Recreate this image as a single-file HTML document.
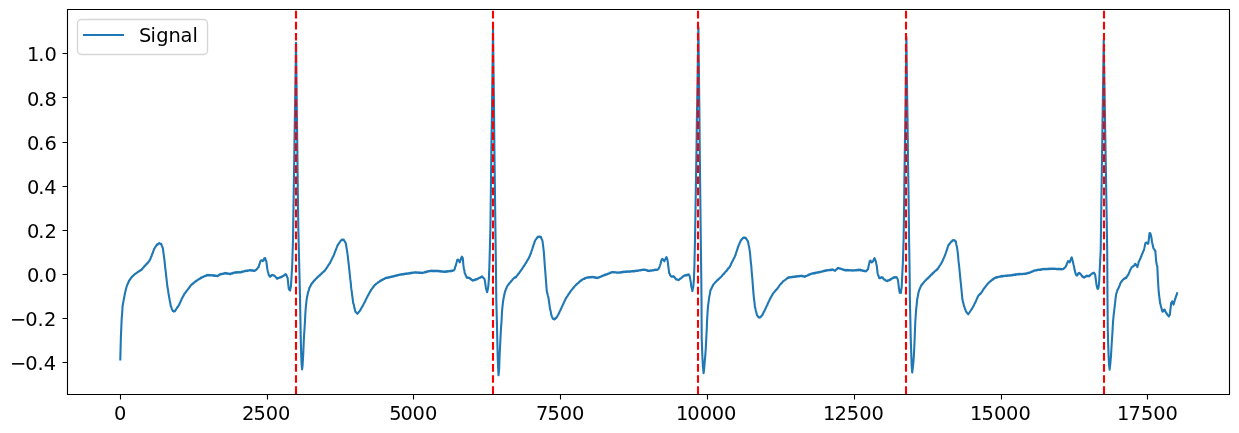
<!DOCTYPE html>
<html><head><meta charset="utf-8"><title>Signal</title>
<style>html,body{margin:0;padding:0;background:#fff;}body{width:1239px;height:433px;overflow:hidden;}svg{display:block;}</style>
</head><body>
<svg width="1239" height="433" viewBox="0 0 1239 433">
<rect width="1239" height="433" fill="#fff"/>
<defs><clipPath id="ax"><rect x="67.5" y="9.5" width="1162" height="385"/></clipPath></defs>
<polyline clip-path="url(#ax)" fill="none" stroke="#1f77b4" stroke-width="2.083" stroke-linejoin="round" stroke-linecap="square" points="120.3,359.5 120.9,336.2 121.3,327.7 121.7,318.4 122.2,312.5 122.6,305.8 123.3,302.2 123.9,298.8 124.4,296.3 125,293 125.5,291.1 126.1,288.6 126.6,286.7 127.1,285.1 127.6,284.3 128.1,282.8 128.6,282.1 129.1,280.4 129.6,280.2 130.1,279.1 130.6,278.8 131.1,277.7 131.6,277.4 132.1,276.5 132.5,276.4 133,275.6 133.5,275.6 134,274.7 134.4,274.7 134.9,273.9 135.4,274 135.9,273.2 136.5,273.2 137,272.5 137.5,272.4 138.1,271.7 138.6,271.8 139.1,271 139.6,271.1 140.1,270.3 140.6,270.5 141.1,269.7 141.6,269.9 142.1,268.8 142.5,268.7 143,267.7 143.5,267.6 144,266.5 144.4,266.5 144.9,265.5 145.4,265.5 145.8,264.6 146.3,264.5 146.8,263.6 147.3,263.5 147.7,262.6 148.2,262.6 148.8,261.3 149.3,261 149.9,259.7 150.5,258.8 151,257 151.6,256.1 152.1,254.2 152.6,253.4 153.1,251.6 153.6,250.7 154.1,248.8 154.6,248.5 155.1,247.2 155.6,246.8 156.1,245.6 156.6,245.2 157.1,244.4 157.6,244.6 158.1,243.8 158.6,243.8 159.1,243 159.6,243.7 160.1,243.5 160.7,244.1 161.2,243.9 161.8,245.7 162.3,246.6 162.9,248.5 163.4,252.3 164,256.8 164.6,261.3 165.1,266.8 165.7,271.4 166.3,276.8 166.8,281.3 167.4,286.8 168,289.7 168.5,293.7 169.1,296.8 169.7,300.2 170.2,302.7 170.8,306.2 171.4,307.3 171.9,309.1 172.5,310.3 172.9,311 173.4,310.9 173.8,311.6 174.4,311 174.9,311.2 175.4,310.1 175.9,309.8 176.4,308.6 176.9,308.4 177.4,307 178,306.7 178.6,305.4 179.1,305.1 179.6,303.4 180.2,302.6 180.7,300.9 181.3,300.2 181.8,298.4 182.3,298.1 182.7,296.8 183.2,296.4 183.7,295.1 184.1,294.7 184.6,293.5 185.1,293.3 185.5,292.3 186,292 186.5,291 187,290.7 187.4,289.8 187.9,289.5 188.4,288.5 188.9,288.2 189.4,287.1 189.8,287 190.3,285.9 190.8,285.6 191.3,284.6 191.8,284.6 192.2,283.9 192.7,283.9 193.2,283 193.7,283.1 194.1,282.3 194.6,282.3 195.1,281.6 195.5,281.6 196,280.9 196.5,281.1 197,280.3 197.4,280.3 197.9,279.5 198.4,279.7 198.9,279 199.5,279.1 200,278.4 200.5,278.5 200.9,277.7 201.4,278 201.8,277.2 202.3,277.4 202.8,276.8 203.3,276.9 203.9,276.3 204.4,276.5 204.9,275.8 205.4,276.1 206,275.5 206.5,275.7 207,274.9 207.5,275.5 208,274.9 208.5,275.5 209,274.9 209.6,275.4 210.1,275 210.6,275.4 211.1,275 211.6,275.4 212.1,275.1 212.6,275.5 213.1,275.1 213.5,275.8 214,275.3 214.5,275.9 215,275.4 215.5,276 215.9,275.6 216.4,276 216.9,275.7 217.4,276.2 217.9,275.5 218.4,275.7 218.9,274.9 219.3,275.1 219.8,274.4 220.3,274.5 220.8,273.9 221.3,274.3 221.7,273.8 222.2,274.2 222.7,273.5 223.2,274 223.7,273.4 224.2,273.7 224.6,273.1 225.1,273.5 225.6,272.9 226.1,273.6 226.6,273.2 227.1,273.7 227.6,273.3 228.2,273.9 228.7,273.6 229.2,274 229.7,273.7 230.2,274.3 230.7,273.6 231.2,273.8 231.8,273.2 232.3,273.6 232.8,272.9 233.3,273.2 233.9,272.6 234.4,272.8 234.9,272.3 235.4,272.8 235.9,272.2 236.3,272.7 236.8,272.1 237.3,272.6 237.8,272.1 238.3,272.6 238.8,272.1 239.2,272.5 239.7,272.1 240.2,272.4 240.7,272 241.2,272.3 241.7,271.7 242.2,272 242.8,271.4 243.3,271.7 243.8,271.2 244.3,271.5 244.8,270.8 245.3,271.2 245.8,270.6 246.4,271.1 246.9,270.5 247.4,270.9 247.9,270.4 248.4,270.7 249,270.2 249.5,270.4 250,269.9 250.5,270.4 251,270.1 251.6,270.7 252.1,270.2 252.6,270.7 253.1,270.4 253.7,270.9 254.2,270.5 254.7,271 255.2,270.2 255.6,270.3 256.1,269.5 256.5,269.6 257,268.8 257.6,268.5 258.1,267.2 258.7,267 259.1,265 259.6,264 260.1,262.1 260.5,261.1 261.1,260.3 261.6,260.5 262.1,260.4 262.6,261.1 263.1,260.9 263.6,260.4 264,258.8 264.5,258.3 265.2,258.1 265.8,260.1 266.3,261.2 266.9,265.8 267.4,269.4 267.9,271.7 268.4,273.3 268.9,275.6 269.5,275.8 270.1,276.8 270.6,275.9 271.1,276 271.6,275 272.1,275.1 272.6,274.8 273.1,275.5 273.6,275.3 274.1,276 274.6,275.6 275.1,276.6 275.6,276.7 276.1,277.7 276.6,277.8 277.1,278.9 277.6,278.1 278.1,278.4 278.6,277.8 279.1,278 279.6,277.4 280.1,277.6 280.6,277 281.1,277.3 281.6,276.6 282.1,276.8 282.6,276.1 283.1,276.1 283.5,275.5 284,275.6 284.5,274.8 284.9,274.9 285.4,274.1 285.9,274.4 286.5,275.1 287,276.8 287.6,277.7 288.2,283.7 288.8,288.8 289.2,289.7 289.7,289.8 290.1,290.6 290.5,288.2 290.9,286.8 291.6,275.8 292.2,265.7 292.6,252.5 293,240.2 293.5,206.8 294,174.3 294.5,141.1 295,108.6 295.5,75.2 296,42.7 296.5,79.3 296.9,116.9 297.4,153.5 297.8,191.1 298.3,227.7 298.9,252.2 299.5,275.7 300,298.2 300.5,323.8 300.8,340.2 301.2,354.7 301.6,364.2 302.1,369.4 302.6,365.2 303.2,354.8 303.8,340.2 304.3,331.8 304.8,324.2 305.2,316.5 305.6,309.5 306.1,304.7 306.5,300.7 307.1,296.9 307.7,294 308.2,291.8 308.8,290.3 309.3,288 309.8,287.5 310.2,286.3 310.7,285.8 311.1,284.4 311.6,284 312.1,282.9 312.7,282.7 313.2,281.6 313.8,281.4 314.3,280.2 314.8,280.2 315.3,279.2 315.8,279.2 316.2,278.3 316.7,278.3 317.2,277.3 317.7,277.3 318.2,276.4 318.8,276.4 319.3,275.4 319.8,275.4 320.3,274.5 320.9,274.4 321.4,273.6 321.9,273.5 322.4,272.6 322.9,272.5 323.5,271.7 324,271.5 324.5,270.6 325,270.7 325.5,269.4 326,269.1 326.5,268 327,267.6 327.5,266.4 328,266.1 328.5,264.9 329,264.6 329.5,263.4 330,263.2 330.5,261.6 331.1,260.9 331.6,259.4 332.1,258.8 332.6,257.3 333.2,256.6 333.7,255.2 334.2,254.4 334.6,252.7 335.1,251.9 335.6,250.2 336.1,249.4 336.6,247.8 337,246.9 337.5,245.3 338,244.9 338.6,243.8 339.1,243.3 339.6,242.2 340.1,241.8 340.7,240.6 341.2,240.3 341.7,239.7 342.2,240.1 342.7,239.5 343.2,240 343.7,239.5 344.2,240.8 344.7,241.2 345.2,242.4 345.7,242.8 346.3,246.5 346.8,249.4 347.4,253.3 347.9,257.1 348.4,262 348.9,265.8 349.4,270.6 349.8,274.5 350.3,279.4 350.8,283.2 351.2,288.2 351.7,291.4 352.2,295.6 352.7,298.8 353.2,303.1 353.8,304.7 354.3,307.4 354.8,309.2 355.4,311.8 355.9,311.9 356.4,312.8 356.9,312.8 357.4,313.8 357.9,312.8 358.4,312.7 358.9,311.7 359.4,311.6 359.9,310.6 360.4,310.2 360.8,308.9 361.3,308.5 361.8,307.2 362.3,306.9 362.8,305.6 363.2,305.2 363.7,303.9 364.2,303.2 364.8,301.8 365.3,301.1 365.8,299.6 366.3,299 366.9,297.4 367.4,296.8 367.9,295.4 368.5,294.9 369,293.5 369.5,293 370,291.6 370.6,291.1 371.1,289.7 371.6,289.4 372.1,288.5 372.5,288.3 373,287.2 373.5,287 373.9,286 374.4,285.7 374.9,284.7 375.4,284.8 375.9,283.9 376.4,284 376.9,283.2 377.4,283.2 377.9,282.4 378.4,282.5 378.9,281.7 379.4,281.8 379.9,280.9 380.4,281.1 380.9,280.3 381.4,280.5 382,279.8 382.5,280 383,279.2 383.5,279.5 384,278.8 384.6,278.9 385.1,278.1 385.6,278.3 386.1,277.7 386.6,278 387.1,277.5 387.7,277.9 388.2,277.3 388.7,277.6 389.2,277 389.7,277.4 390.2,276.8 390.8,277.1 391.3,276.5 391.8,276.9 392.3,276.4 392.8,276.6 393.3,276.1 393.8,276.4 394.3,275.9 394.8,276.1 395.3,275.6 395.8,275.9 396.3,275.3 396.8,275.6 397.3,275 397.8,275.4 398.3,274.8 398.8,275.2 399.3,274.5 399.8,274.9 400.3,274.3 400.8,274.7 401.3,274.2 401.8,274.6 402.3,274 402.8,274.4 403.3,273.9 403.8,274.3 404.3,273.8 404.8,274.1 405.3,273.6 405.8,274 406.3,273.4 406.8,273.9 407.3,273.4 407.8,273.7 408.3,273.3 408.8,273.6 409.3,273 409.8,273.5 410.3,272.8 410.8,273.3 411.3,272.7 411.8,273.2 412.3,272.6 412.8,273 413.3,272.5 413.8,272.8 414.3,272.3 414.8,272.7 415.3,272.2 415.8,272.7 416.3,272.3 416.8,272.8 417.3,272.4 417.8,272.8 418.3,272.4 418.8,272.9 419.3,272.4 419.8,273 420.3,272.6 420.8,273 421.3,272.6 421.8,273.1 422.3,272.7 422.8,272.9 423.3,272.5 423.8,272.7 424.3,272.1 424.8,272.5 425.3,271.9 425.8,272.3 426.3,271.5 426.8,271.9 427.3,271.4 427.8,271.6 428.3,271.1 428.8,271.4 429.3,270.9 429.8,271.1 430.3,270.7 430.8,271.1 431.3,270.6 431.8,271.2 432.3,270.7 432.8,271.1 433.3,270.7 433.7,271.1 434.2,270.7 434.7,271.1 435.2,270.7 435.7,271.2 436.2,270.7 436.7,271.1 437.2,270.7 437.7,271.2 438.2,270.8 438.7,271.3 439.2,270.9 439.7,271.4 440.2,271 440.7,271.6 441.2,271 441.7,271.7 442.2,271.3 442.7,271.6 443.2,271.3 443.7,271.9 444.2,271.4 444.7,271.9 445.2,271.5 445.7,271.8 446.2,271.2 446.7,271.7 447.2,271.1 447.7,271.6 448.2,271.1 448.7,271.4 449.2,271 449.7,271.3 450.2,270.8 450.7,271.3 451.2,270.7 451.7,271.1 452.2,270.5 452.7,270.9 453.2,270.3 453.7,270.5 454.2,269.9 454.7,269 455.1,267.1 455.6,266.2 456.2,263.8 456.7,262.2 457.3,259.8 457.8,260.2 458.3,259.7 458.8,260.9 459.3,261.3 459.8,262.4 460.3,260.5 460.8,259.6 461.3,257.7 461.8,256.7 462.3,257.1 462.8,258.2 463.4,265.2 463.8,268.2 464.3,270.2 464.7,273.2 465.2,273.8 465.7,275.3 466.2,276.1 466.7,277.7 467.2,277.2 467.7,277.8 468.2,277.5 468.7,278 469.2,277.6 469.7,278.5 470.2,278.4 470.7,279.2 471.2,279 471.7,279.9 472.2,279.9 472.7,280.6 473.2,280 473.7,280.4 474.2,279.8 474.7,280.1 475.1,279.4 475.6,279.8 476.1,279.2 476.6,279.5 477.1,278.9 477.6,279.1 478.1,278.4 478.6,278.5 479.1,277.8 479.6,278 480.1,277.3 480.6,277.6 481.1,276.9 481.6,277 482.1,276.4 482.6,277.3 483.1,277.3 483.6,278.3 484.1,278.4 484.6,279.3 485,281.7 485.5,285.1 485.9,287.7 486.5,290.3 487.1,292.2 487.7,289.9 488.3,286.5 488.9,278.8 489.4,265.7 489.9,247.3 490.4,227.8 490.9,188.4 491.4,148.1 492,108.9 492.5,68.6 493,29.2 493.5,68.6 494,108.8 494.4,148.2 494.9,188.4 495.4,227.8 496,272.2 496.3,299.8 496.9,322.3 497.3,339.8 497.8,360.3 498.5,375.3 499.2,368.2 499.6,355.2 500,348 500.4,339.8 501,327.9 501.5,321.8 502.1,310.3 502.7,304.6 503.3,299.9 503.9,296.8 504.4,294.6 505,291.4 505.5,290.7 505.9,289 506.4,288.4 506.8,286.9 507.3,286.1 507.8,285.2 508.3,285 508.8,284 509.2,283.8 509.7,282.7 510.2,282.6 510.7,281.6 511.2,281.5 511.7,280.4 512.2,280.3 512.7,279.3 513.2,279.1 513.7,278.2 514.2,278 514.7,277.3 515.1,277.7 515.5,277 516,277.3 516.5,276.2 517,275.9 517.5,274.9 518,274.7 518.5,273.5 519,273.4 519.5,272.3 520,271.9 520.6,270.7 521.1,270.5 521.6,269.3 522.2,268.9 522.7,267.6 523.2,267.4 523.6,266.2 524.1,266 524.6,264.8 525.1,264.5 525.5,263.3 526,263.1 526.5,261.8 526.9,261.4 527.4,260.1 527.9,259.7 528.4,258.6 528.8,258.1 529.3,256.9 529.9,255.9 530.4,254.1 531,253.3 531.5,251 532.1,249.9 532.6,247.8 533.1,246.7 533.6,244.8 534.1,243.8 534.6,241.8 535.1,240.7 535.6,239.6 536.1,239.4 536.6,238.2 537.1,238 537.6,236.8 538.2,237.2 538.7,236.6 539.3,236.9 539.8,236.6 540.4,237.2 540.9,236.9 541.5,238.8 542,239.7 542.6,241.5 543,245 543.5,249.2 543.9,252.6 544.5,261.5 545.1,269.4 545.7,277 546.2,283.7 546.8,291.4 547.3,293.1 547.9,295.7 548.4,297.3 549,301.7 549.5,305.1 550.1,309.3 550.7,311.3 551.2,314.4 551.8,316.3 552.3,317.5 552.7,317.9 553.2,319 553.8,318.8 554.4,319.5 554.9,318.6 555.3,318.8 555.8,317.9 556.2,318 556.7,317.2 557.2,316.6 557.8,315.2 558.3,314.8 558.8,313.3 559.3,312.6 559.8,311.1 560.4,310.4 560.9,308.9 561.4,308.2 561.9,306.8 562.4,306 562.9,304.5 563.4,303.9 563.9,302.4 564.4,301.7 564.9,300.3 565.4,299.6 565.9,298.1 566.4,297.7 566.9,296.6 567.4,296.3 567.9,295.1 568.4,294.7 568.9,293.6 569.4,293.3 569.9,292.1 570.4,291.8 570.9,290.6 571.4,290.4 571.9,289.4 572.4,289.3 572.9,288.3 573.4,288.1 573.9,287 574.4,286.9 574.9,285.9 575.4,285.8 575.9,284.8 576.4,284.8 576.9,283.8 577.4,283.8 578,283 578.5,283 579,282.1 579.5,282 580,281.1 580.5,281.2 581,280.4 581.5,280.5 582,279.6 582.5,279.7 583,279.1 583.5,279.2 584,278.6 584.5,278.9 585,278.1 585.5,278.3 586,277.7 586.5,277.9 587,277.3 587.5,277.6 588,277.2 588.5,277.6 589,277 589.5,277.4 590,277 590.5,277.5 591,276.8 591.5,277.3 592,276.9 592.5,277.3 593,276.8 593.5,277.4 594,277.1 594.5,277.6 595,277.2 595.5,277.8 596,277.4 596.5,278 597,277.6 597.5,278.2 598,277.5 598.5,277.7 599,277 599.5,277.4 600,276.7 600.5,276.9 601,276.3 601.5,276.5 602,275.9 602.4,276.1 602.9,275.6 603.4,275.8 603.9,275.1 604.4,275.3 604.8,274.7 605.3,275.1 605.8,274.4 606.3,274.7 606.8,274 607.3,274.3 607.8,273.6 608.3,273.9 608.8,273.3 609.4,273.5 609.9,272.8 610.4,273.1 610.9,272.4 611.4,272.7 611.9,272.1 612.4,272.3 612.9,271.9 613.4,272.4 613.9,272 614.5,272.5 615,272 615.5,272.5 616,272.2 616.5,272.6 617,272.3 617.6,272.7 618.1,272.3 618.6,272.7 619.1,272.4 619.6,272.7 620.1,272.3 620.6,272.6 621.1,272.1 621.5,272.5 622,271.9 622.5,272.3 623,271.8 623.5,272.1 624,271.6 624.5,272.1 625,271.6 625.5,272 626,271.4 626.5,272 627.1,271.4 627.6,271.8 628.1,271.3 628.6,271.8 629.1,271.3 629.6,271.8 630.1,271.3 630.6,271.7 631.1,271.1 631.6,271.5 632.1,271.1 632.5,271.5 633,271 633.5,271.4 634,270.9 634.5,271.3 635,270.8 635.5,271.2 636,270.6 636.5,271 637,270.5 637.5,270.9 638,270.4 638.5,270.6 639,270.2 639.5,270.5 640,270 640.5,270.4 641,269.8 641.5,270.2 642,269.7 642.5,270 643,269.5 643.5,269.9 644,269.4 644.5,270 645,269.6 645.5,270.2 646,269.8 646.5,270.4 647,270.1 647.5,270.8 648,270.4 648.5,271 649,270.7 649.5,271.1 650,270.5 650.5,270.8 651,270.3 651.5,270.7 652,270.2 652.5,270.5 653,270 653.5,270.4 654,269.9 654.4,270.2 654.9,269.6 655.4,270.1 655.9,269.6 656.3,269.9 656.8,269.5 657.3,269.8 657.8,269.2 658.3,269.3 658.9,267.8 659.4,267.1 660,265.5 660.5,264 661,261.7 661.5,260.2 662,259.2 662.4,258.9 662.9,259.1 663.3,260.1 663.8,260.4 664.3,261.4 664.8,259.9 665.3,259.3 665.9,257.9 666.4,257.2 666.8,257.8 667.3,259.2 667.8,262.2 668.3,266.2 668.7,269.1 669.1,272.8 669.7,273.6 670.2,275.4 670.8,276.1 671.3,276.6 671.8,276.2 672.2,276.6 672.7,276.2 673.2,276.6 673.7,276.2 674.2,277.2 674.7,277.3 675.2,278.4 675.7,278.5 676.2,279.5 676.7,279.2 677.2,279.7 677.7,279.5 678.2,280.1 678.7,279.8 679.2,279.8 679.7,278.9 680.2,279 680.7,278.2 681.2,278.3 681.7,277.4 682.2,277.4 682.7,276.6 683.1,276.6 683.6,275.8 684.1,275.9 684.6,275.3 685.1,275.6 685.6,275.1 686.1,275.4 686.7,274.8 687.2,275.3 687.7,274.6 688.2,275 688.7,274.4 689.2,275.6 689.6,275.8 690.3,279.6 690.8,282.4 691.2,286.2 691.8,288.3 692.4,291.1 692.8,288.7 693.3,287 693.9,279.7 694.4,266.3 695,239.7 695.5,209.8 696,179 696.5,148.9 696.9,118.1 697.4,88.1 697.9,57.2 698.4,27.2 698.9,69.4 699.4,112.5 699.8,154.6 700.3,197.7 700.8,239.8 701.3,280.2 701.5,299.8 701.7,337.3 702.3,354.7 702.9,366.3 703.6,373.2 704,370 704.4,365.8 704.8,360.9 705.3,355.2 705.8,348 706.2,339.7 706.8,327.9 707,321.7 707.7,310.2 708.2,304.7 708.8,300.3 709.3,296.6 709.9,293.9 710.4,290.2 710.9,289.8 711.4,288.4 711.8,287.8 712.3,286.4 712.8,285.8 713.3,284.4 713.8,284.3 714.3,283.4 714.8,283.1 715.3,282.1 715.9,282 716.4,281.1 716.9,280.8 717.4,279.9 717.9,279.9 718.4,279 718.9,279.1 719.3,278.2 719.8,278.2 720.3,277.4 720.8,277.4 721.3,276.4 721.8,276.3 722.3,275.2 722.8,275.1 723.4,274 723.9,274 724.4,272.9 724.9,272.8 725.4,271.8 725.9,271.6 726.4,270.7 726.9,270.6 727.3,269.4 727.8,269.4 728.3,268.3 728.8,268.2 729.3,267.2 729.8,267 730.2,265.7 730.7,265.1 731.1,263.7 731.6,263.1 732.1,261.7 732.6,261.2 733.1,259.9 733.5,259.3 734,257.9 734.5,257.4 735,256.1 735.5,255.2 735.9,253.2 736.4,252.3 736.9,250.3 737.4,249.3 737.8,247.5 738.3,246.5 738.8,244.9 739.3,244.2 739.8,242.6 740.3,241.9 740.8,240.3 741.3,240.2 741.8,239.2 742.3,239 742.8,238 743.3,237.8 743.8,237.5 744.3,238 744.8,237.5 745.3,238.1 745.8,237.8 746.3,239 746.8,239.4 747.4,240.7 747.9,241.1 748.5,244.3 749,246.6 749.6,249.8 750.2,254.8 750.7,260.9 751.3,266 751.8,273.1 752.4,279.3 752.9,286.4 753.6,294.8 754,299 754.5,302.5 754.9,306.9 755.4,308.4 755.9,311 756.4,312.6 756.9,315.1 757.4,315.4 757.8,316.6 758.3,316.8 758.7,317.4 759.2,317.2 759.6,317.7 760.1,317 760.5,317.2 761,316.4 761.5,316.2 761.9,315.2 762.4,315.1 762.9,313.7 763.3,313.2 763.8,311.8 764.3,311.4 764.8,309.9 765.2,309.4 765.7,308.1 766.2,307.3 766.8,305.7 767.3,305.1 767.8,303.4 768.3,302.7 768.9,301.2 769.4,300.5 769.9,298.9 770.4,298.4 770.8,297.2 771.3,296.9 771.8,295.6 772.3,295.1 772.7,293.9 773.2,293.6 773.7,292.4 774.2,292.3 774.8,291.3 775.3,291.1 775.8,290.1 776.4,289.9 776.9,288.9 777.4,288.7 777.9,287.6 778.4,287.4 778.9,286.1 779.4,285.9 779.9,284.7 780.4,284.6 780.9,283.6 781.5,283.5 782,282.4 782.5,282.3 783,281.3 783.5,281.3 784,280.5 784.6,280.5 785.1,279.8 785.6,279.8 786.1,279 786.6,279 787.2,278.1 787.7,278.2 788.2,277.4 788.7,277.8 789.2,277.2 789.7,277.5 790.2,277.1 790.7,277.4 791.2,276.9 791.8,277.3 792.3,276.8 792.8,277.1 793.3,276.6 793.8,277 794.3,276.5 794.8,276.9 795.3,276.3 795.8,276.8 796.3,276.2 796.9,276.7 797.4,276.1 797.9,276.5 798.4,276 798.9,276.4 799.4,275.9 800,276.2 800.5,275.8 801,276.2 801.5,275.6 802,276.2 802.4,275.9 802.9,276.4 803.4,276.1 803.9,276.6 804.3,276.3 804.8,276.9 805.3,276.1 805.8,276.3 806.3,275.7 806.9,276 807.4,275.3 807.9,275.5 808.4,274.7 808.9,275 809.4,274.4 810,274.5 810.5,273.9 811,274.2 811.5,273.5 812,273.8 812.5,273.3 813,273.6 813.5,273.1 813.9,273.5 814.4,272.9 814.9,273.3 815.4,272.7 815.9,273.1 816.4,272.5 816.9,272.8 817.4,272.3 817.8,272.7 818.3,272.1 818.8,272.5 819.3,271.9 819.8,272.3 820.3,271.8 820.8,272 821.3,271.5 821.8,271.7 822.3,271.2 822.8,271.5 823.4,270.9 823.9,271.3 824.4,270.7 824.9,271 825.4,270.4 825.9,270.8 826.4,270.2 826.9,270.5 827.4,270 827.9,270.4 828.5,270 829,270.3 829.5,269.8 830,270.2 830.5,269.7 831,270.1 831.6,269.6 832.1,269.9 832.6,269.4 833.1,269.8 833.6,269.8 834.2,270.7 834.7,270.6 835.2,270.7 835.7,269.8 836.2,269.8 836.6,269 837.1,269 837.6,268.1 838.1,268.2 838.6,267.9 839.1,268.4 839.6,268.2 840.1,268.8 840.6,268.6 841.1,269.1 841.7,268.8 842.2,269.4 842.7,269.2 843.2,269.8 843.7,269.5 844.2,270.1 844.7,269.9 845.2,270.4 845.7,269.9 846.2,270.4 846.7,269.9 847.1,270.3 847.6,269.9 848.1,270.5 848.6,270 849.1,270.4 849.6,270 850.1,270.5 850.6,270.2 851,270.5 851.5,270.1 852,270.6 852.5,270.2 853,270.6 853.5,270.2 854,270.5 854.5,270 855.1,270.4 855.6,270 856.1,270.5 856.6,269.9 857.1,270.3 857.6,269.8 858.2,270.3 858.7,269.7 859.2,270.2 859.7,269.6 860.2,270.3 860.7,269.8 861.1,270.4 861.6,270.1 862.1,270.7 862.6,270.3 863,270.9 863.5,270.5 864,271.1 864.5,270.8 865,271.2 865.5,271 866,271.4 866.5,270.5 867,270.4 867.5,269.5 868,269.3 868.5,266.4 869.1,264.3 869.6,261.3 870,261.4 870.5,260.5 871.1,261.9 871.7,262.4 872.3,262.3 872.9,261.2 873.4,260.5 874,258.9 874.5,258.2 875,259 875.4,260.6 875.9,261.4 876.3,264 876.8,265.8 877.2,270 877.6,273.2 878.2,275.2 878.7,276.3 879.3,278.3 879.8,277.7 880.3,278.1 880.8,277.5 881.2,277.8 881.7,277.1 882.2,277.4 882.8,277.6 883.3,278.8 883.9,279.1 884.4,279.8 884.9,279.6 885.3,280.3 885.8,280.2 886.3,280.9 886.8,280.8 887.3,281.1 887.7,280.4 888.2,280.7 888.7,280 889.2,280.3 889.6,279.7 890.1,279.9 890.6,279.1 891,279.3 891.5,278.5 892,278.7 892.5,278 892.9,278.1 893.4,277.4 893.9,277.8 894.4,277.2 894.9,277.6 895.3,277.1 895.8,277.6 896.3,277 896.8,277.4 897.4,278.5 898,280.3 898.4,283.3 898.8,287.1 899.2,289.5 899.7,292.8 900.3,292.3 900.9,292.9 901.3,289.5 901.7,287 902.3,274.1 902.9,262.3 903.6,239.8 904.1,206.4 904.5,172.2 905,138.8 905.5,104.4 905.9,71.1 906.4,36.8 906.9,77.8 907.5,118 908,159.1 908.6,199.1 909.1,240.2 909.6,271.8 909.9,300.3 910.4,321.7 910.7,337.2 911.3,354.8 911.7,366.2 912.2,372.5 912.6,369.5 913,365.8 913.5,361 913.9,355.2 914.6,340.2 915.3,321.8 915.7,316.2 916.1,309.9 916.7,304.6 917.3,298.4 917.9,296.2 918.4,293 919,290.7 919.5,289.3 919.9,288.7 920.4,287.1 920.8,286.6 921.3,285.1 921.8,284.9 922.3,284 922.8,283.8 923.3,282.8 923.8,282.5 924.3,281.6 924.8,281.4 925.3,280.4 925.8,280.4 926.3,279.4 926.8,279.4 927.3,278.4 927.8,278.4 928.3,277.5 928.8,277.5 929.3,276.5 929.8,276.5 930.3,275.5 930.8,275.4 931.4,274.4 931.9,274.5 932.4,273.4 932.9,273.5 933.4,272.6 933.9,272.5 934.4,271.5 934.9,271.5 935.5,270.6 936,270.6 936.5,269.6 937,269.7 937.5,268.8 938,268.7 938.5,267.5 939,267.2 939.5,265.9 940.1,265.5 940.6,264.2 941.1,263.9 941.6,262.6 942.1,262.1 942.6,260.6 943.1,259.9 943.5,258.4 944,257.8 944.5,256.2 945,255.6 945.5,253.7 945.9,252.8 946.4,250.9 946.9,250 947.4,248.1 947.8,247.1 948.3,245.2 948.8,245.1 949.3,243.9 949.8,243.7 950.3,242.6 950.8,242.3 951.4,241.3 951.9,241.4 952.5,240.3 953,240.6 953.6,240 954.1,240.3 954.7,240.3 955.2,241.3 955.8,241.4 956.3,244.5 956.9,246.7 957.4,249.8 958,254.9 958.5,260.9 959.1,265.9 959.7,272 960.2,277.1 960.8,283.1 961.3,288.2 961.9,294.2 962.4,299.3 962.9,301.9 963.5,303.6 964,306.2 964.5,307.1 965,309 965.5,309.8 966,311.7 966.5,312 967.1,313.1 967.7,313.2 968.2,314.4 968.7,313.2 969.1,313.1 969.6,312.1 970,311.9 970.5,310.7 971,310.3 971.6,309 972.1,308.6 972.7,307.3 973.2,306.8 973.7,305.4 974.1,305 974.6,303.6 975.1,303.1 975.5,301.7 976,301.3 976.5,299.5 977.1,298.6 977.7,296.8 978.2,296.1 978.7,295.1 979.1,295.1 979.6,294.1 980.1,294.2 980.6,293.2 981,293.2 981.5,292.3 982,291.9 982.5,290.7 983,290.3 983.5,289 984,288.7 984.5,287.7 985,287.5 985.5,286.4 985.9,286.2 986.4,285.3 986.9,285.1 987.4,284 987.9,283.8 988.4,282.9 989,282.8 989.5,281.9 990,281.7 990.5,280.9 991,281 991.4,280.3 991.9,280.2 992.4,279.4 992.9,279.6 993.4,278.8 993.8,278.9 994.3,278.1 994.8,278.2 995.3,277.6 995.8,277.9 996.3,277.2 996.9,277.6 997.4,277 997.9,277.3 998.4,276.8 998.9,277 999.4,276.5 1000,276.8 1000.5,276.3 1001,276.6 1001.5,275.9 1002,276.4 1002.5,275.8 1003,276.3 1003.5,275.9 1003.9,276.2 1004.4,275.7 1004.9,276 1005.4,275.5 1005.9,276 1006.4,275.5 1006.9,275.9 1007.4,275.3 1007.8,275.8 1008.3,275.3 1008.8,275.7 1009.3,275.3 1009.8,275.7 1010.3,275 1010.8,275.4 1011.3,275 1011.8,275.3 1012.2,274.8 1012.7,275.3 1013.2,274.6 1013.7,275.1 1014.2,274.6 1014.7,275 1015.2,274.4 1015.7,274.8 1016.1,274.2 1016.6,274.6 1017.1,274.2 1017.6,274.5 1018.1,273.9 1018.6,274.4 1019.1,273.9 1019.6,274.3 1020.1,273.8 1020.6,274.2 1021.1,273.8 1021.6,274.2 1022.1,273.8 1022.6,274.1 1023.1,273.7 1023.6,274 1024.1,273.6 1024.6,274 1025.1,273.6 1025.6,274 1026.1,273.4 1026.6,273.6 1027.2,273 1027.7,273.3 1028.2,272.7 1028.8,273.2 1029.3,272.5 1029.8,272.8 1030.3,272.2 1030.8,272.3 1031.3,271.7 1031.8,272 1032.3,271.3 1032.8,271.5 1033.3,270.9 1033.8,271.1 1034.3,270.4 1034.8,270.6 1035.3,270.2 1035.8,270.4 1036.3,270 1036.8,270.4 1037.2,269.8 1037.7,270.1 1038.2,269.6 1038.7,270 1039.2,269.6 1039.7,269.9 1040.2,269.4 1040.7,269.8 1041.1,269.3 1041.6,269.6 1042.1,269.1 1042.6,269.5 1043.1,268.9 1043.6,269.3 1044.1,268.9 1044.6,269.3 1045.1,268.8 1045.6,269.3 1046.1,268.9 1046.6,269.2 1047.1,268.8 1047.6,269.2 1048,268.8 1048.5,269.1 1049,268.6 1049.5,269.2 1050,268.6 1050.5,269 1051,268.6 1051.5,269.1 1052,268.6 1052.5,269 1053,268.5 1053.5,269 1054,268.6 1054.5,269 1055,268.6 1055.5,269 1056,268.7 1056.5,269.1 1057,268.7 1057.5,269.1 1058,268.7 1058.5,269.3 1059,268.8 1059.5,269.3 1060,268.9 1060.5,269.3 1061,268.8 1061.5,269.4 1062,269 1062.5,269.3 1063,269 1063.5,269 1064,268.1 1064.5,268.1 1065,267.3 1065.5,267.3 1066,265.7 1066.5,265.1 1067,263.4 1067.5,262.6 1068,261.1 1068.6,261.8 1069.1,261.6 1069.7,262.4 1070.2,260.7 1070.7,259.9 1071.2,258.1 1071.7,257.4 1072.2,258.6 1072.6,260.9 1073,262.3 1073.5,264.5 1074,266.4 1074.5,269.4 1074.9,270.7 1075.4,272.9 1075.8,274.2 1076.4,275.4 1077,275.6 1077.6,275 1078.1,273.6 1078.7,273.1 1079.3,272.9 1079.8,273.7 1080.4,273.5 1080.9,274.7 1081.5,275.1 1082,276.5 1082.5,276.2 1083,277 1083.6,276.8 1084.1,277.6 1084.6,276.8 1085.2,277 1085.7,276.2 1086.3,276.5 1086.8,275.7 1087.3,276.1 1087.9,275.7 1088.4,276.1 1089,275.7 1089.5,276.2 1090,275.2 1090.5,275 1091.1,274.2 1091.6,274 1092.1,273.3 1092.6,273.5 1093,273 1093.5,273.2 1094,272.5 1094.5,273.8 1095.1,274.3 1095.8,279.5 1096.5,284.7 1097,287.2 1097.5,288.8 1098,288.9 1098.4,288 1099.1,283 1099.6,272.2 1100.1,262.2 1100.7,249.8 1101.2,215.3 1101.7,180 1102.2,145.5 1102.7,110.2 1103.2,75.7 1103.7,40.2 1104.2,70.6 1104.7,100.1 1105.2,130.5 1105.7,160 1106.2,190.4 1106.7,219.8 1107.2,250.2 1107.5,299.8 1107.8,330.3 1108.2,344.8 1108.7,358.2 1109.1,364.7 1109.6,369.6 1110.3,363.8 1111,355.7 1111.4,348.5 1111.8,342.2 1112.4,333 1113,322.3 1113.7,314.5 1114.1,311.4 1114.6,307.1 1115,303.9 1115.5,298.8 1116.1,294.6 1116.6,292.6 1117,291.6 1117.5,289.8 1117.9,289.4 1118.4,288.1 1118.8,287.7 1119.3,286.1 1119.8,285.3 1120.2,283.6 1120.7,282.8 1121.2,281.8 1121.6,281.7 1122.1,280.5 1122.6,280.5 1123,279.4 1123.5,279.3 1124,278.5 1124.4,278.8 1124.9,278.1 1125.4,278.3 1125.8,277.6 1126.3,277.9 1126.8,276.6 1127.3,276.3 1127.9,275 1128.4,274.7 1128.9,273.1 1129.4,272.3 1129.9,270.6 1130.4,269.9 1130.9,268.6 1131.3,268.2 1131.8,267 1132.3,267 1132.8,266.3 1133.4,266.4 1133.9,265.6 1134.4,265.3 1134.8,264.2 1135.3,263.9 1135.8,264.3 1136.3,265.5 1136.9,265.9 1137.4,267.1 1137.8,265.1 1138.3,263.8 1138.7,261.8 1139.3,261 1139.8,259.4 1140.4,258.7 1140.9,256.9 1141.4,256.1 1141.9,254.4 1142.4,253.6 1143,251.8 1143.5,250.9 1144.1,249.1 1144.5,247.4 1145,244.9 1145.4,243.2 1146,242.6 1146.6,242.8 1147.2,242.8 1147.7,243.7 1148.3,243.7 1148.9,238.9 1149.5,233.3 1150.1,233 1150.5,233.7 1150.9,235.3 1151.5,238.2 1152,242 1152.4,243.6 1152.9,246.1 1153.3,247.7 1153.9,249 1154.5,249.5 1154.9,250.6 1155.3,250.7 1155.8,256.6 1156.2,261.8 1156.8,264.7 1157.3,266.6 1158,281 1158.7,291.7 1159.2,295.9 1159.6,299 1160.1,303.2 1160.6,304.6 1161,306.9 1161.5,308.2 1162,310.5 1162.6,311.7 1163.2,311.3 1163.7,309.9 1164.3,309.5 1164.8,309.9 1165.2,311.3 1165.7,311.8 1166.1,313 1166.6,313.1 1167,314.4 1167.5,314.5 1167.9,315.4 1168.3,315.5 1168.8,316.5 1169.3,315.3 1169.8,315 1170.3,310.6 1170.7,307.2 1171.2,302.8 1171.7,302.6 1172.2,301.3 1172.7,302.8 1173.1,303.3 1173.6,304.6 1174.1,302.5 1174.5,301.4 1175,299.3 1175.5,298.2 1176,296.2 1176.6,295.1 1177.1,293.3"/>
<line x1="296.0" y1="393.9" x2="296.0" y2="9.5" stroke="#ff0000" stroke-width="2.083" stroke-dasharray="7.708 3.333"/>
<line x1="493.0" y1="393.9" x2="493.0" y2="9.5" stroke="#ff0000" stroke-width="2.083" stroke-dasharray="7.708 3.333"/>
<line x1="698.0" y1="393.9" x2="698.0" y2="9.5" stroke="#ff0000" stroke-width="2.083" stroke-dasharray="7.708 3.333"/>
<line x1="906.0" y1="393.9" x2="906.0" y2="9.5" stroke="#ff0000" stroke-width="2.083" stroke-dasharray="7.708 3.333"/>
<line x1="1104.0" y1="393.9" x2="1104.0" y2="9.5" stroke="#ff0000" stroke-width="2.083" stroke-dasharray="7.708 3.333"/>
<g stroke="#000" stroke-width="1.111" stroke-linecap="square" fill="none">
<path d="M67.5 394.5V9.5H1229.5V394.5Z"/>
<path stroke-linecap="butt" d="M120.5 394.5v5.0 M267.5 394.5v5.0 M413.5 394.5v5.0 M560.5 394.5v5.0 M707.5 394.5v5.0 M854.5 394.5v5.0 M1001.5 394.5v5.0 M1147.5 394.5v5.0 M67.5 53.5h-5.0 M67.5 97.5h-5.0 M67.5 142.5h-5.0 M67.5 186.5h-5.0 M67.5 230.5h-5.0 M67.5 274.5h-5.0 M67.5 318.5h-5.0 M67.5 362.5h-5.0"/>
</g>
<g font-family="DejaVu Sans, Liberation Sans, sans-serif" font-size="19.444px" fill="#000">
<text x="113.91" y="420">0</text>
<text x="242 253.48 265.8 277.92" y="420">2500</text>
<text x="389.15 400.47 412.54 424.97" y="420">5000</text>
<text x="536 547.48 559.78 571.92" y="420">7500</text>
<text x="676.04 687.3 699.69 711.77 724.11" y="420">10000</text>
<text x="823.04 834.43 846.7 859.28 871.41" y="420">12500</text>
<text x="970.04 981.55 993.89 1005.99 1018.39" y="420">15000</text>
<text x="1117.04 1128.41 1140.94 1153.28 1165.41" y="420">17500</text>
<text x="27.09 38.32 44.55" y="61">1.0</text>
<text x="26.97 38.29 44.59" y="106">0.8</text>
<text x="26.97 38.29 44.54" y="150">0.6</text>
<text x="26.97 38.29 44.35" y="194">0.4</text>
<text x="26.97 38.29 44.43" y="238">0.2</text>
<text x="26.97 38.29 44.53" y="282">0.0</text>
<text x="10.11 25.24 37.59 43.91" y="326">−0.2</text>
<text x="10.11 25.24 37.59 43.86" y="370">−0.4</text>
</g>
<rect x="77.5" y="19.5" width="130" height="35" rx="3.89" ry="3.89" fill="#fff" fill-opacity="0.8" stroke="#cccccc" stroke-opacity="0.8" stroke-width="1.389"/>
<line x1="84" y1="35" x2="122.95" y2="35" stroke="#1f77b4" stroke-width="2.083" stroke-linecap="square"/>
<g font-family="DejaVu Sans, Liberation Sans, sans-serif" font-size="19.444px" fill="#000"><text x="138.96 150.5 156.13 168.49 180.47 192.57" y="42">Signal</text></g>
</svg>
</body></html>
